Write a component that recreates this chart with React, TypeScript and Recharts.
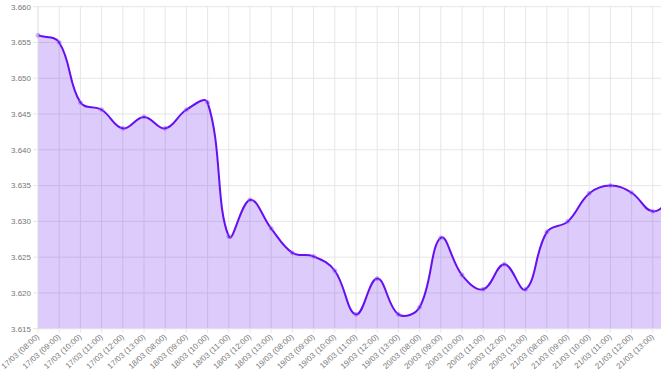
import { AreaChart, Area, XAxis, YAxis, CartesianGrid } from 'recharts';

const days = ['17/03', '18/03', '19/03', '20/03', '21/03'];
const hours = ['08:00', '09:00', '10:00', '11:00', '12:00', '13:00'];

// the last point sits past the cropped right edge, its label is not shown
const labels: string[] = [
  ...days.flatMap((d) => hours.map((h) => `${d} (${h})`)),
  '22/03 (08:00)',
];
const shownLabels = 30;

const rates = [
  3.656, 3.655, 3.6466, 3.6456, 3.643, 3.6446,
  3.643, 3.6456, 3.6466, 3.6279, 3.633, 3.629,
  3.6256, 3.6251, 3.6231, 3.617, 3.622, 3.617,
  3.618, 3.6277, 3.6225, 3.6205, 3.624, 3.6205,
  3.6285, 3.63, 3.6339, 3.635, 3.634, 3.6314,
  3.6335,
];

const yTicks = [3.615, 3.62, 3.625, 3.63, 3.635, 3.64, 3.645, 3.65, 3.655, 3.66];

const data = labels.map((label, i) => ({ label, rate: rates[i] }));

const GRID = '#e6e6e6';
const LINE = '#6610f2';
const TEXT = '#777';
const FONT = '"Liberation Sans", Arial, sans-serif';

// bezier spline like chart.js with tension 0.4
function tensionCurve(ctx: any) {
  const t = 0.4;
  let pts: number[][] = [];
  let line = NaN;
  const draw = () => {
    const n = pts.length;
    if (!n) return;
    if (line) ctx.lineTo(pts[0][0], pts[0][1]);
    else ctx.moveTo(pts[0][0], pts[0][1]);
    const cps = pts.map((cur, i) => {
      const prev = pts[i - 1] || cur;
      const next = pts[i + 1] || cur;
      const d01 = Math.hypot(cur[0] - prev[0], cur[1] - prev[1]);
      const d12 = Math.hypot(next[0] - cur[0], next[1] - cur[1]);
      let s01 = d01 / (d01 + d12);
      let s12 = d12 / (d01 + d12);
      if (isNaN(s01)) s01 = 0;
      if (isNaN(s12)) s12 = 0;
      const fa = t * s01;
      const fb = t * s12;
      return {
        inX: cur[0] - fa * (next[0] - prev[0]),
        inY: cur[1] - fa * (next[1] - prev[1]),
        outX: cur[0] + fb * (next[0] - prev[0]),
        outY: cur[1] + fb * (next[1] - prev[1]),
      };
    });
    for (let i = 0; i < n - 1; i++) {
      ctx.bezierCurveTo(cps[i].outX, cps[i].outY, cps[i + 1].inX, cps[i + 1].inY, pts[i + 1][0], pts[i + 1][1]);
    }
  };
  return {
    areaStart() { line = 0; },
    areaEnd() { line = NaN; },
    lineStart() { pts = []; },
    lineEnd() {
      draw();
      if (line || (line !== 0 && pts.length === 1)) ctx.closePath();
      line = 1 - line;
    },
    point(x: number, y: number) { pts.push([+x, +y]); },
  };
}

const XTick = (props: any) => {
  const { x, y, payload, index } = props;
  if (index >= shownLabels) return null;
  return (
    <g transform={`translate(${x},${y})`}>
      <text transform="rotate(-42)" textAnchor="end" dy="0.32em" fontSize={8} fill={TEXT} fontFamily={FONT}>
        {payload.value}
      </text>
    </g>
  );
};

export default function App() {
  return (
    <div style={{ position: 'absolute', left: 0, top: 0, width: 661, height: 376, overflow: 'hidden', background: '#fff' }}>
      <AreaChart width={684} height={376} data={data} margin={{ top: 6.7, right: 10, left: 0, bottom: 0 }}>
        <CartesianGrid stroke={GRID} />
        <XAxis
          dataKey="label"
          interval={0}
          height={47.3}
          tick={<XTick />}
          tickSize={4}
          tickMargin={3}
          tickLine={{ stroke: GRID }}
          axisLine={{ stroke: GRID }}
        />
        <YAxis
          domain={[3.615, 3.66]}
          ticks={yTicks}
          width={38}
          tickSize={5}
          tickMargin={2}
          tickFormatter={(v: number) => v.toFixed(3)}
          tick={{ fontSize: 8, fill: TEXT, fontFamily: FONT }}
          tickLine={{ stroke: GRID }}
          axisLine={{ stroke: GRID }}
        />
        <Area
          dataKey="rate"
          type={tensionCurve as any}
          stroke={LINE}
          strokeWidth={2}
          fill={LINE}
          fillOpacity={0.22}
          dot={{ r: 2.1, fill: LINE, stroke: '#a77cf6', strokeWidth: 0.5 }}
          activeDot={false}
          isAnimationActive={false}
        />
      </AreaChart>
    </div>
  );
}
